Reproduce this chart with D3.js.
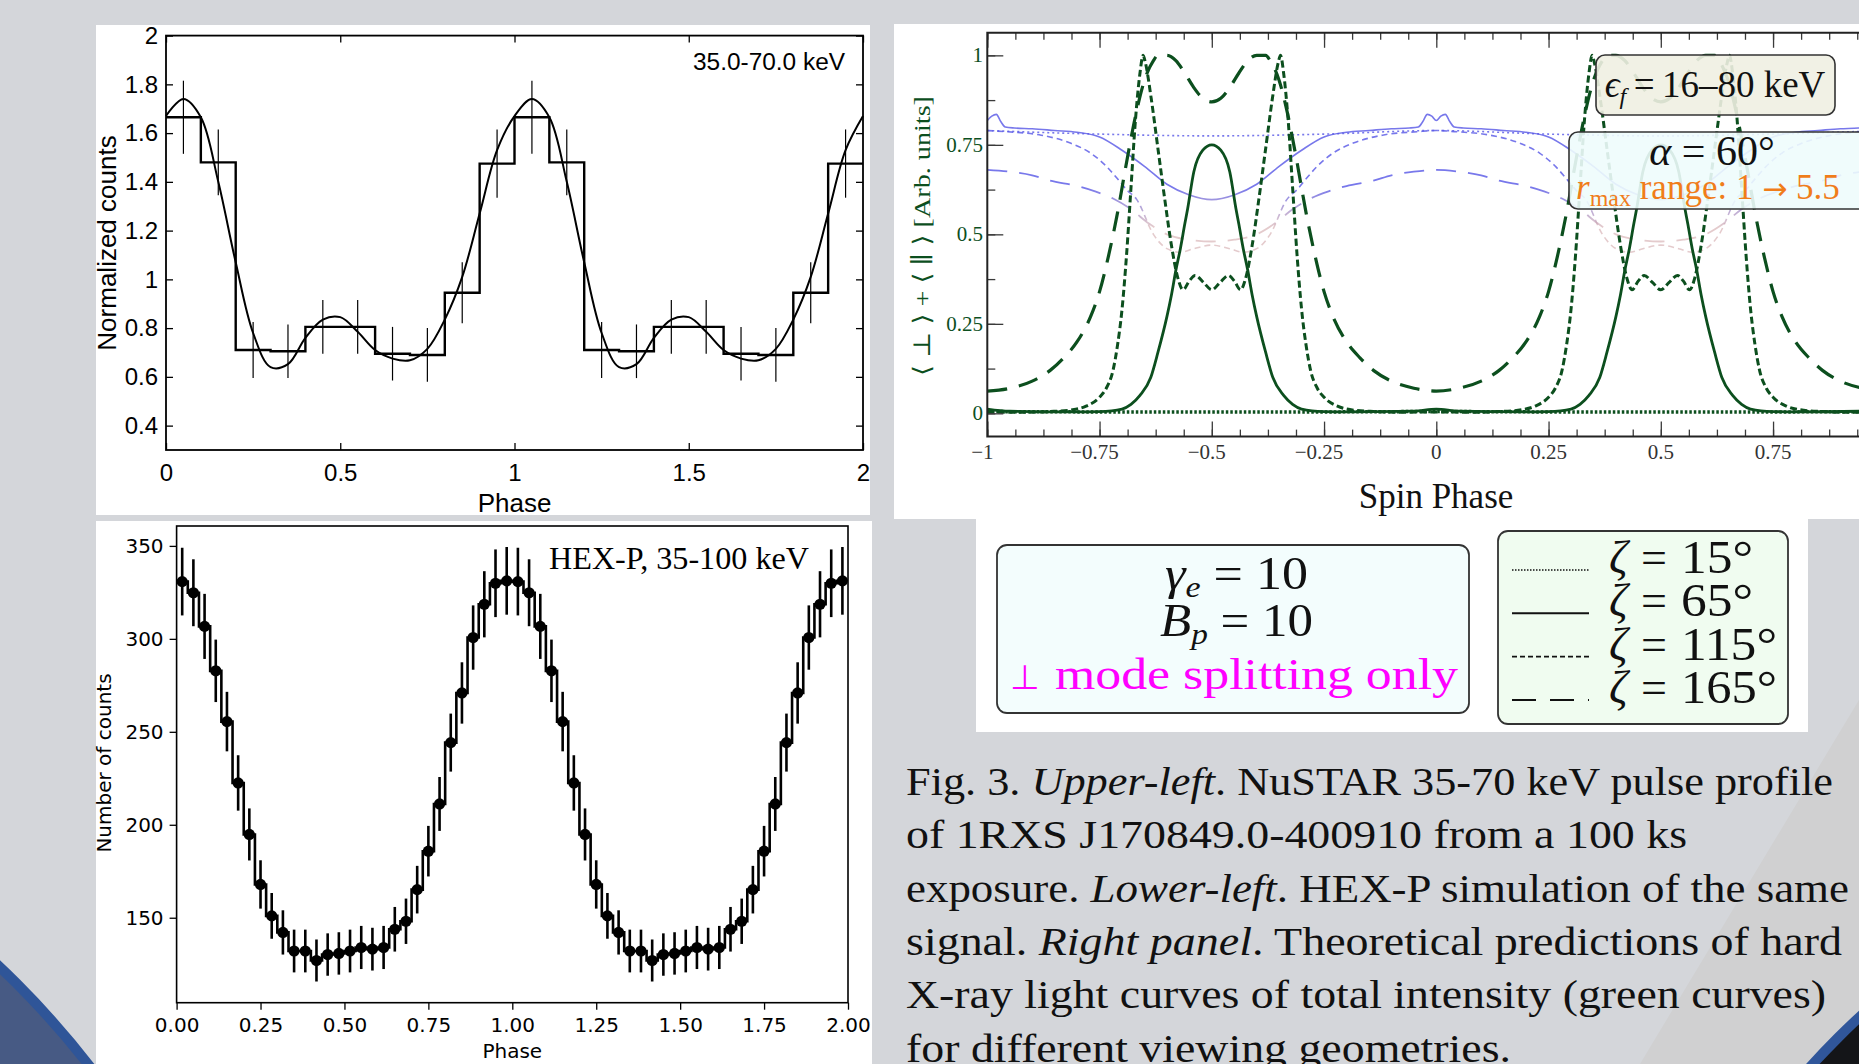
<!DOCTYPE html>
<html>
<head>
<meta charset="utf-8">
<script src="https://cdn.jsdelivr.net/npm/d3@7"></script>
<style>
  body { margin: 0; background: #d4d6da; overflow: hidden; }
  svg { display: block; }
</style>
</head>
<body>
<div id="main"></div>
<script>
var W = 1859, H = 1064;

// ---------- upper-left: NuSTAR 35-70 keV folded profile (one cycle, shown twice) ----------
var nuBinLeft = [0, 0.1, 0.2, 0.3, 0.4, 0.5, 0.6, 0.7, 0.8, 0.9];
var nuCounts  = [1.665, 1.48, 0.71, 0.705, 0.805, 0.805, 0.695, 0.69, 0.945, 1.475];
var nuErr     = [0.15, 0.135, 0.115, 0.11, 0.11, 0.11, 0.11, 0.11, 0.125, 0.14];
var nuFitPhase = [0, 0.05, 0.1, 0.15, 0.2, 0.25, 0.3, 0.35, 0.4, 0.45, 0.5, 0.55, 0.6, 0.65, 0.7, 0.75, 0.8, 0.85, 0.9, 0.95];
var nuFitValue = [1.67, 1.74, 1.665, 1.40, 1.07, 0.78, 0.64, 0.652, 0.76, 0.835, 0.845, 0.785, 0.71, 0.675, 0.668, 0.715, 0.835, 1.01, 1.27, 1.53];
var nuYTicks = [0.4, 0.6, 0.8, 1, 1.2, 1.4, 1.6, 1.8, 2];
var nuXTicks = [0, 0.5, 1, 1.5, 2];

// ---------- lower-left: HEX-P 35-100 keV simulation, 30 bins per cycle ----------
var hexCounts = [330.8, 324.8, 306.7, 282.8, 255.5, 222.5, 194.8, 167.9, 151, 142.1,
                 132.1, 132.1, 127, 130.2, 130.8, 132.1, 134, 133.1, 134, 143.8,
                 148.1, 165.1, 185.8, 211.2, 244.2, 270.9, 300.7, 318.6, 329.9, 331.2];
var hexErr = [18.2, 18, 17.5, 16.8, 16, 14.9, 14, 13, 12.3, 11.9,
              11.5, 11.5, 11.3, 11.4, 11.4, 11.5, 11.6, 11.5, 11.6, 12,
              12.2, 12.8, 13.6, 14.5, 15.6, 16.5, 17.3, 17.8, 18.2, 18.2];
var hexYTicks = [150, 200, 250, 300, 350];
var hexXTicks = [0, 0.25, 0.5, 0.75, 1, 1.25, 1.5, 1.75, 2];

// ---------- right: theoretical light curves, one lobe read as value vs distance from lobe centre ----------
var lobeCentres = [-0.5, 0.5];
var z15Off = [0, 0.25, 0.5];
var z15Val = [0.004, 0.004, 0.005];
var z65Off = [0, 0.02, 0.04, 0.054, 0.06, 0.07, 0.08, 0.09, 0.1, 0.12, 0.136, 0.16, 0.18, 0.2, 0.25, 0.3, 0.45, 0.5];
var z65Val = [0.75, 0.735, 0.675, 0.57, 0.53, 0.46, 0.40, 0.33, 0.27, 0.17, 0.10, 0.05, 0.025, 0.012, 0.005, 0.004, 0.006, 0.012];
var z115Off = [0, 0.018, 0.037, 0.05, 0.064, 0.076, 0.09, 0.105, 0.12, 0.135, 0.148, 0.153, 0.16, 0.17, 0.18, 0.19, 0.2, 0.21, 0.22, 0.235, 0.25, 0.28, 0.31, 0.36, 0.42, 0.5];
var z115Val = [0.345, 0.365, 0.385, 0.37, 0.345, 0.38, 0.47, 0.6, 0.74, 0.88, 0.98, 1.0, 0.95, 0.82, 0.63, 0.44, 0.29, 0.19, 0.12, 0.07, 0.045, 0.02, 0.01, 0.005, 0.003, 0.004];
var z165Off = [0, 0.02, 0.04, 0.06, 0.08, 0.1, 0.12, 0.13, 0.15, 0.17, 0.19, 0.21, 0.23, 0.25, 0.27, 0.3, 0.33, 0.36, 0.4, 0.45, 0.5];
var z165Val = [0.87, 0.88, 0.91, 0.95, 0.985, 1.0, 1.0, 0.985, 0.93, 0.83, 0.7, 0.56, 0.44, 0.34, 0.27, 0.2, 0.155, 0.12, 0.09, 0.07, 0.062];
// pale (perpendicular-mode) companions
var b15Off = [0, 0.25, 0.5];
var b15Val = [0.775, 0.78, 0.79];
var b65Off = [0, 0.05, 0.1, 0.15, 0.2, 0.25, 0.3, 0.35, 0.4, 0.44, 0.46, 0.47, 0.48, 0.49, 0.5];
var b65Val = [0.597, 0.61, 0.64, 0.69, 0.735, 0.772, 0.785, 0.79, 0.795, 0.797, 0.80, 0.815, 0.835, 0.83, 0.818];
var b115Off = [0, 0.04, 0.07, 0.1, 0.13, 0.167, 0.19, 0.21, 0.234, 0.27, 0.315, 0.38, 0.46, 0.5];
var b115Val = [0.47, 0.46, 0.45, 0.46, 0.5, 0.597, 0.625, 0.655, 0.689, 0.727, 0.755, 0.777, 0.787, 0.79];
var b165Off = [0, 0.05, 0.1, 0.14, 0.18, 0.22, 0.26, 0.3, 0.36, 0.4, 0.45, 0.5];
var b165Val = [0.48, 0.485, 0.5, 0.53, 0.57, 0.60, 0.62, 0.635, 0.65, 0.665, 0.675, 0.68];
var spinMajor = [-1, -0.75, -0.5, -0.25, 0, 0.25, 0.5, 0.75, 1];
var spinLabels = ["\u22121", "\u22120.75", "\u22120.5", "\u22120.25", "0", "0.25", "0.5", "0.75", "1"];
var intMajor = [0, 0.25, 0.5, 0.75, 1];
var intLabels = ["0", "0.25", "0.5", "0.75", "1"];

var zetaLabels = ["15\u00b0", "65\u00b0", "115\u00b0", "165\u00b0"];

var captionLines = [
  [["Fig. 3. ", 0], ["Upper-left", 1], [". NuSTAR 35-70 keV pulse profile", 0]],
  [["of 1RXS J170849.0-400910 from a 100 ks", 0]],
  [["exposure. ", 0], ["Lower-left", 1], [". HEX-P simulation of the same", 0]],
  [["signal. ", 0], ["Right panel", 1], [". Theoretical predictions of hard", 0]],
  [["X-ray light curves of total intensity (green curves)", 0]],
  [["for different viewing geometries.", 0]]
];
var captionWidths = [927, 781, 943, 936, 920, 605];

var SANS = "Liberation Sans, Arial, sans-serif";
var DEJA = "DejaVu Sans, sans-serif";
var SERIF = "Liberation Serif, DejaVu Serif, serif";
var GREEN = "#0c4f1e";

var svg = d3.select("#main").append("svg").attr("width", W).attr("height", H);

// ---- slide background ----
svg.append("rect").attr("width", W).attr("height", H).attr("fill", "#d4d6da");
svg.append("path").attr("d", "M1640,1064 L1859,700 L1859,1064 Z").attr("fill", "#d0d0d1");
svg.append("circle").attr("cx", -600).attr("cy", 1600).attr("r", 872)
   .attr("fill", "#475a84").attr("stroke", "#2f5598").attr("stroke-width", 10);
svg.append("circle").attr("cx", 2400).attr("cy", 1600).attr("r", 795)
   .attr("fill", "#141518").attr("stroke", "#30569a").attr("stroke-width", 10);

function styleAxis(g, font, size, color) {
  g.attr("font-family", font).attr("font-size", size);
  g.selectAll(".domain").remove();
  g.selectAll(".tick line").attr("stroke", color || "#000").attr("stroke-width", 1.3);
  g.selectAll(".tick text").attr("fill", color || "#000");
}

// =================== panel 1 ===================
svg.append("rect").attr("x", 96).attr("y", 25).attr("width", 774).attr("height", 490).attr("fill", "#fff");
var x1 = d3.scaleLinear().domain([0, 2]).range([166, 863]);
var y1 = d3.scaleLinear().domain([0.3, 2]).range([450, 35.6]);
var p1 = svg.append("g");

var gx1 = p1.append("g").attr("transform", "translate(0," + y1(0.3) + ")")
  .call(d3.axisBottom(x1).tickValues(nuXTicks).tickSizeInner(-7).tickSizeOuter(0).tickPadding(14).tickFormat(function(d){ return String(d); }));
styleAxis(gx1, SANS, 24);
var gx1t = p1.append("g").attr("transform", "translate(0," + y1(2) + ")")
  .call(d3.axisTop(x1).tickValues(nuXTicks).tickSizeInner(-7).tickSizeOuter(0).tickFormat(""));
styleAxis(gx1t, SANS, 24);
var gy1 = p1.append("g").attr("transform", "translate(" + x1(0) + ",0)")
  .call(d3.axisLeft(y1).tickValues(nuYTicks).tickSizeInner(-7).tickSizeOuter(0).tickPadding(8).tickFormat(function(d){ return String(d); }));
styleAxis(gy1, SANS, 24);
var gy1r = p1.append("g").attr("transform", "translate(" + x1(2) + ",0)")
  .call(d3.axisRight(y1).tickValues(nuYTicks).tickSizeInner(-7).tickSizeOuter(0).tickFormat(""));
styleAxis(gy1r, SANS, 24);

var nuSteps = [];
[0, 1].forEach(function(c) {
  nuBinLeft.forEach(function(b, i) { nuSteps.push([b + c, nuCounts[i]]); });
});
nuSteps.push([2, nuCounts[nuCounts.length - 1]]);
p1.append("path").datum(nuSteps)
  .attr("d", d3.line().x(function(d){ return x1(d[0]); }).y(function(d){ return y1(d[1]); }).curve(d3.curveStepAfter))
  .attr("fill", "none").attr("stroke", "#000").attr("stroke-width", 2.4);

var nuBars = [];
[0, 1].forEach(function(c) {
  nuBinLeft.forEach(function(b, i) { nuBars.push({p: b + 0.05 + c, v: nuCounts[i], e: nuErr[i]}); });
});
p1.selectAll(".nuerr").data(nuBars).enter().append("line")
  .attr("x1", function(d){ return x1(d.p); }).attr("x2", function(d){ return x1(d.p); })
  .attr("y1", function(d){ return y1(d.v - d.e); }).attr("y2", function(d){ return y1(d.v + d.e); })
  .attr("stroke", "#000").attr("stroke-width", 1.2);

var nuFit = [];
[0, 1].forEach(function(c) {
  nuFitPhase.forEach(function(p, i) { nuFit.push([p + c, nuFitValue[i]]); });
});
nuFit.push([2, nuFitValue[0]]);
p1.append("path").datum(nuFit)
  .attr("d", d3.line().x(function(d){ return x1(d[0]); }).y(function(d){ return y1(d[1]); }).curve(d3.curveCatmullRom))
  .attr("fill", "none").attr("stroke", "#000").attr("stroke-width", 2);

p1.append("rect").attr("x", x1(0)).attr("y", y1(2)).attr("width", x1(2) - x1(0)).attr("height", y1(0.3) - y1(2))
  .attr("fill", "none").attr("stroke", "#000").attr("stroke-width", 1.8);
p1.append("text").attr("x", 845).attr("y", 70).attr("text-anchor", "end")
  .attr("font-family", SANS).attr("font-size", 23).attr("textLength", 152).attr("lengthAdjust", "spacingAndGlyphs")
  .text("35.0-70.0 keV");
p1.append("text").attr("x", x1(1)).attr("y", 512).attr("text-anchor", "middle")
  .attr("font-family", SANS).attr("font-size", 26).text("Phase");
p1.append("text").attr("transform", "translate(116,243) rotate(-90)").attr("text-anchor", "middle")
  .attr("font-family", SANS).attr("font-size", 26).text("Normalized counts");

// =================== panel 2 ===================
svg.append("rect").attr("x", 96).attr("y", 521).attr("width", 776).attr("height", 560).attr("fill", "#fff");
var x2 = d3.scaleLinear().domain([0, 2]).range([176.6, 848]);
var y2 = d3.scaleLinear().domain([104.3, 360.7]).range([1002.7, 526]);
var p2 = svg.append("g");
var gx2 = p2.append("g").attr("transform", "translate(0," + y2(104.3) + ")")
  .call(d3.axisBottom(x2).tickValues(hexXTicks).tickSizeInner(7).tickSizeOuter(0).tickPadding(8).tickFormat(d3.format(".2f")));
styleAxis(gx2, DEJA, 20);
var gy2 = p2.append("g").attr("transform", "translate(" + x2(0) + ",0)")
  .call(d3.axisLeft(y2).tickValues(hexYTicks).tickSizeInner(7).tickSizeOuter(0).tickPadding(6));
styleAxis(gy2, DEJA, 20);

var hexPts = [];
[0, 1].forEach(function(c) {
  hexCounts.forEach(function(v, i) { hexPts.push({p: (i + 0.5) / hexCounts.length + c, v: v, e: hexErr[i]}); });
});
p2.append("path").datum(hexPts)
  .attr("d", d3.line().x(function(d){ return x2(d.p); }).y(function(d){ return y2(d.v); }).curve(d3.curveStep))
  .attr("fill", "none").attr("stroke", "#000").attr("stroke-width", 2.6);
p2.selectAll(".hexerr").data(hexPts).enter().append("line")
  .attr("x1", function(d){ return x2(d.p); }).attr("x2", function(d){ return x2(d.p); })
  .attr("y1", function(d){ return y2(d.v - d.e); }).attr("y2", function(d){ return y2(d.v + d.e); })
  .attr("stroke", "#000").attr("stroke-width", 2.6);
p2.selectAll(".hexdot").data(hexPts).enter().append("circle")
  .attr("cx", function(d){ return x2(d.p); }).attr("cy", function(d){ return y2(d.v); })
  .attr("r", 5.6).attr("fill", "#000");

p2.append("rect").attr("x", x2(0)).attr("y", y2(360.7)).attr("width", x2(2) - x2(0)).attr("height", y2(104.3) - y2(360.7))
  .attr("fill", "none").attr("stroke", "#000").attr("stroke-width", 1.6);
p2.append("text").attr("x", 549).attr("y", 569)
  .attr("font-family", SERIF).attr("font-size", 31).attr("textLength", 260).attr("lengthAdjust", "spacingAndGlyphs")
  .text("HEX-P, 35-100 keV");
p2.append("text").attr("x", x2(1)).attr("y", 1058).attr("text-anchor", "middle")
  .attr("font-family", DEJA).attr("font-size", 20).text("Phase");
p2.append("text").attr("transform", "translate(111,763) rotate(-90)").attr("text-anchor", "middle")
  .attr("font-family", DEJA).attr("font-size", 20).text("Number of counts");

// =================== panel 3 ===================
svg.append("rect").attr("x", 894).attr("y", 24).attr("width", 970).attr("height", 495).attr("fill", "#fff");
svg.append("rect").attr("x", 976).attr("y", 518).attr("width", 832).attr("height", 214).attr("fill", "#fff");
var x3 = d3.scaleLinear().domain([-1, 1]).range([987.3, 1885.3]);
var y3 = d3.scaleLinear().domain([-0.065, 1.063]).range([436.6, 32.8]);
var p3 = svg.append("g");
var defs = svg.append("defs");
defs.append("clipPath").attr("id", "clip3").append("rect")
  .attr("x", x3(-1)).attr("y", y3(1.063)).attr("width", x3(1) - x3(-1)).attr("height", y3(-0.065) - y3(1.063));
var grad = defs.append("linearGradient").attr("id", "paleFade").attr("gradientUnits", "userSpaceOnUse")
  .attr("x1", 0).attr("x2", 0).attr("y1", y3(0.63)).attr("y2", y3(0.52));
grad.append("stop").attr("offset", 0).attr("stop-color", "#5656e6").attr("stop-opacity", 0.8);
grad.append("stop").attr("offset", 1).attr("stop-color", "#d2a8ab").attr("stop-opacity", 0.6);

function lobes(off, val) {
  var pts = [];
  lobeCentres.forEach(function(c) {
    off.forEach(function(d, i) {
      pts.push([c - d, val[i]]);
      if (d > 0) pts.push([c + d, val[i]]);
    });
  });
  pts.sort(function(a, b){ return a[0] - b[0]; });
  return pts.filter(function(p, i){ return i === 0 || Math.abs(p[0] - pts[i - 1][0]) > 1e-9; });
}
var line3 = d3.line().x(function(d){ return x3(d[0]); }).y(function(d){ return y3(d[1]); }).curve(d3.curveMonotoneX);
var curves = p3.append("g").attr("clip-path", "url(#clip3)");
var pale = [
  {o: b15Off, v: b15Val, dash: "2,3", w: 1.6},
  {o: b115Off, v: b115Val, dash: "6,4", w: 1.6},
  {o: b165Off, v: b165Val, dash: "20,12", w: 1.8},
  {o: b65Off, v: b65Val, dash: null, w: 1.6}
];
pale.forEach(function(c) {
  curves.append("path").datum(lobes(c.o, c.v)).attr("d", line3)
    .attr("fill", "none").attr("stroke", "url(#paleFade)").attr("stroke-width", c.w)
    .attr("stroke-dasharray", c.dash);
});
var green = [
  {o: z15Off, v: z15Val, dash: "2.5,2", w: 3.5},
  {o: z165Off, v: z165Val, dash: "20,12", w: 3.2},
  {o: z115Off, v: z115Val, dash: "7,3.5", w: 3},
  {o: z65Off, v: z65Val, dash: null, w: 2.8}
];
green.forEach(function(c) {
  curves.append("path").datum(lobes(c.o, c.v)).attr("d", line3)
    .attr("fill", "none").attr("stroke", GREEN).attr("stroke-width", c.w)
    .attr("stroke-dasharray", c.dash);
});

// ticks (inward, major + minor)
var spinMinor = d3.range(-1, 1.0001, 0.0625);
var intMinor = d3.range(0, 1.0001, 0.125);
function tickAxis(axis, scale, vals, size, tr) {
  var g = p3.append("g").attr("transform", tr)
    .call(axis(scale).tickValues(vals).tickSizeInner(-size).tickSizeOuter(0).tickFormat(""));
  styleAxis(g, SERIF, 20, "#3a3a3a");
}
tickAxis(d3.axisBottom, x3, spinMinor, 7, "translate(0," + y3(-0.065) + ")");
tickAxis(d3.axisBottom, x3, spinMajor, 15, "translate(0," + y3(-0.065) + ")");
tickAxis(d3.axisTop, x3, spinMinor, 7, "translate(0," + y3(1.063) + ")");
tickAxis(d3.axisTop, x3, spinMajor, 15, "translate(0," + y3(1.063) + ")");
tickAxis(d3.axisLeft, y3, intMinor, 8, "translate(" + x3(-1) + ",0)");
tickAxis(d3.axisLeft, y3, intMajor, 16, "translate(" + x3(-1) + ",0)");

p3.append("path")
  .attr("d", "M" + x3(1) + "," + y3(1.063) + "H" + x3(-1) + "V" + y3(-0.065) + "H" + x3(1))
  .attr("fill", "none").attr("stroke", "#222").attr("stroke-width", 2);

p3.selectAll(".spinlab").data(spinMajor).enter().append("text")
  .attr("x", function(d){ return x3(d) - (d < 0 ? 5 : 0); }).attr("y", 459)
  .attr("text-anchor", "middle").attr("font-family", SERIF).attr("font-size", 21).attr("fill", "#333")
  .text(function(d, i){ return spinLabels[i]; });
p3.selectAll(".intlab").data(intMajor).enter().append("text")
  .attr("x", 983).attr("y", function(d){ return y3(d) + 7; })
  .attr("text-anchor", "end").attr("font-family", SERIF).attr("font-size", 21).attr("fill", GREEN)
  .text(function(d, i){ return intLabels[i]; });
p3.append("text").attr("x", 1436).attr("y", 508).attr("text-anchor", "middle")
  .attr("font-family", SERIF).attr("font-size", 35).attr("fill", "#111").text("Spin Phase");
p3.append("text").attr("transform", "translate(930,236) rotate(-90)").attr("text-anchor", "middle")
  .attr("font-family", SERIF).attr("font-size", 24).attr("fill", GREEN)
  .attr("textLength", 280).attr("lengthAdjust", "spacingAndGlyphs")
  .text("\u27e8 \u22a5 \u27e9 + \u27e8 \u2225 \u27e9 [Arb. units]");

// energy box
p3.append("rect").attr("x", 1596).attr("y", 55).attr("width", 239).attr("height", 60).attr("rx", 9)
  .attr("fill", "#efefe2").attr("fill-opacity", 0.9).attr("stroke", "#333").attr("stroke-width", 1.6);
var te = p3.append("text").attr("x", 1715).attr("y", 97).attr("text-anchor", "middle")
  .attr("font-family", SERIF).attr("font-size", 37).attr("fill", "#111");
te.append("tspan").attr("font-style", "italic").text("\u03f5");
te.append("tspan").attr("font-style", "italic").attr("font-size", 24).attr("dy", 7).text("f");
te.append("tspan").attr("dy", -7).text("\u2009=\u200916\u201380 keV");

// alpha box
p3.append("rect").attr("x", 1569).attr("y", 132).attr("width", 300).attr("height", 77).attr("rx", 9)
  .attr("fill", "#eefcfc").attr("fill-opacity", 0.9).attr("stroke", "#333").attr("stroke-width", 1.6);
var ta = p3.append("text").attr("x", 1712).attr("y", 165).attr("text-anchor", "middle")
  .attr("font-family", SERIF).attr("font-size", 42).attr("fill", "#111");
ta.append("tspan").attr("font-style", "italic").text("\u03b1");
ta.append("tspan").text(" = 60\u00b0");
var tr = p3.append("text").attr("x", 1576).attr("y", 199)
  .attr("font-family", SERIF).attr("font-size", 35).attr("fill", "#f07d1a");
tr.append("tspan").attr("font-style", "italic").text("r");
tr.append("tspan").attr("font-size", 24).attr("dy", 7).text("max");
tr.append("tspan").attr("dy", -7).text(" range: 1 ");
tr.append("tspan").attr("font-family", "DejaVu Sans").attr("font-size", 30).text("\u2192");
tr.append("tspan").text(" 5.5");

// =================== panel 4: parameter box + legend ===================
var p4 = svg.append("g");
p4.append("rect").attr("x", 997).attr("y", 545).attr("width", 472).attr("height", 168).attr("rx", 10)
  .attr("fill", "#f3fdfd").attr("stroke", "#333").attr("stroke-width", 1.8);
var g1 = p4.append("text").attr("x", 1165).attr("y", 589)
  .attr("font-family", SERIF).attr("font-size", 46).attr("fill", "#111")
  .attr("textLength", 143).attr("lengthAdjust", "spacingAndGlyphs");
g1.append("tspan").attr("font-style", "italic").text("\u03b3");
g1.append("tspan").attr("font-style", "italic").attr("font-size", 30).attr("dy", 8).text("e");
g1.append("tspan").attr("dy", -8).text(" = 10");
var g2 = p4.append("text").attr("x", 1160).attr("y", 636)
  .attr("font-family", SERIF).attr("font-size", 46).attr("fill", "#111")
  .attr("textLength", 153).attr("lengthAdjust", "spacingAndGlyphs");
g2.append("tspan").attr("font-style", "italic").text("B");
g2.append("tspan").attr("font-style", "italic").attr("font-size", 30).attr("dy", 8).text("p");
g2.append("tspan").attr("dy", -8).text(" = 10");
p4.append("text").attr("x", 1010).attr("y", 689)
  .attr("font-family", "DejaVu Sans").attr("font-size", 34).attr("fill", "#ff00ff").text("\u22a5");
p4.append("text").attr("x", 1055).attr("y", 689)
  .attr("font-family", SERIF).attr("font-size", 44).attr("fill", "#ff00ff")
  .attr("textLength", 403).attr("lengthAdjust", "spacingAndGlyphs")
  .text("mode splitting only");

p4.append("rect").attr("x", 1498).attr("y", 531).attr("width", 290).attr("height", 193).attr("rx", 10)
  .attr("fill", "#f0fcf0").attr("stroke", "#333").attr("stroke-width", 1.8);
var legendDash = ["1.5,1.5", null, "5,3", "24,14"];
var legendW = [1.4, 2, 1.6, 2];
var legendNumLen = [72, 72, 96, 96];
var rows = p4.selectAll(".zrow").data(zetaLabels).enter().append("g")
  .attr("transform", function(d, i){ return "translate(0," + (573 + i * 43.3) + ")"; });
rows.append("line").attr("x1", 1512).attr("x2", 1589).attr("y1", -3).attr("y2", -3)
  .attr("stroke", "#111").attr("stroke-width", function(d, i){ return legendW[i]; })
  .attr("stroke-dasharray", function(d, i){ return legendDash[i]; });
rows.append("text").attr("x", 1609).attr("y", 0)
  .attr("font-family", SERIF).attr("font-size", 46).attr("font-style", "italic").attr("fill", "#111")
  .text("\u03b6");
rows.append("text").attr("x", 1641).attr("y", 0)
  .attr("font-family", SERIF).attr("font-size", 46).attr("fill", "#111")
  .text("=");
rows.append("text").attr("x", 1681).attr("y", 0)
  .attr("font-family", SERIF).attr("font-size", 46).attr("fill", "#111")
  .attr("textLength", function(d, i){ return legendNumLen[i]; }).attr("lengthAdjust", "spacingAndGlyphs")
  .text(function(d){ return d; });

// =================== caption ===================
var cap = svg.append("g");
captionLines.forEach(function(line, i) {
  var t = cap.append("text").attr("x", 906).attr("y", 795 + i * 53.3)
    .attr("font-family", SERIF).attr("font-size", 41).attr("fill", "#111")
    .attr("textLength", captionWidths[i]).attr("lengthAdjust", "spacingAndGlyphs");
  line.forEach(function(seg) {
    t.append("tspan").attr("font-style", seg[1] ? "italic" : "normal").text(seg[0]);
  });
});
</script>
</body>
</html>
